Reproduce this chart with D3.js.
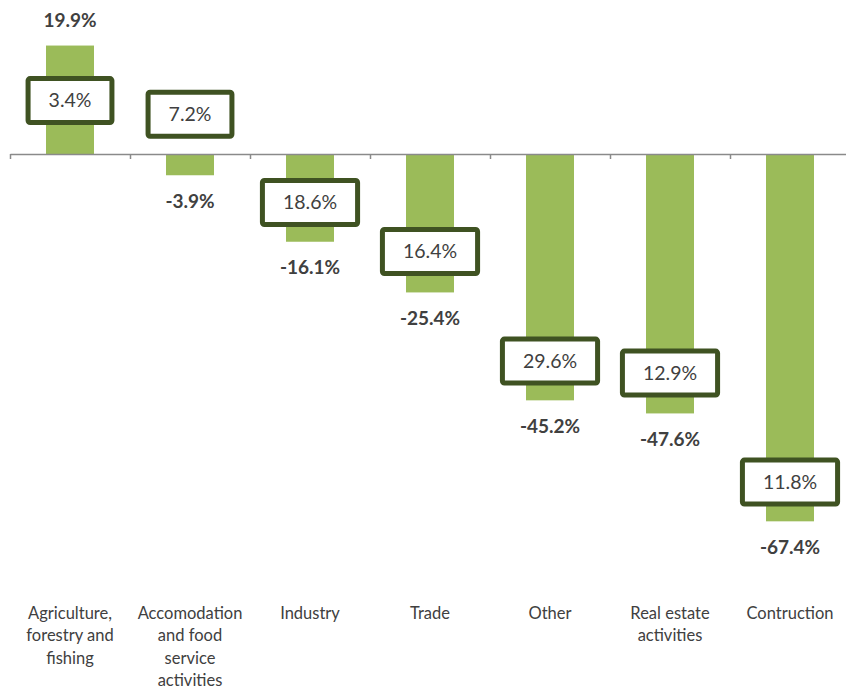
<!DOCTYPE html>
<html>
<head>
<meta charset="utf-8">
<script src="https://cdn.jsdelivr.net/npm/d3@7"></script>
<style>
  body { margin: 0; background: #fff; }
  svg { display: block; font-family: Lato, "Open Sans", sans-serif; }
</style>
</head>
<body>
<script>
let width = 846
let height = 691

// categories (line breaks as in the original axis labels)
let categories = [
    "Agriculture,\nforestry and\nfishing",
    "Accomodation\nand food\nservice\nactivities",
    "Industry",
    "Trade",
    "Other",
    "Real estate\nactivities",
    "Contruction"
]
// bar series (%)
let change = [19.9, -3.9, -16.1, -25.4, -45.2, -47.6, -67.4]
// boxed series (%)
let share = [3.4, 7.2, 18.6, 16.4, 29.6, 12.9, 11.8]
// where the boxed markers sit, on the same value axis
let shareAt = [9.8, 7.3, -8.9, -17.9, -38.0, -40.2, -60.2]

let barColor = "#9bbb59"
let boxColor = "#3f5222"
let textColor = "#404040"

// plain hyphen for negatives, like the original
let pct = d3.formatLocale({decimal: ".", thousands: ",", grouping: [3], currency: ["", ""], minus: "-"}).format(".1f")

let svg = d3.select("body").append("svg")
    .attr("width", width)
    .attr("height", height)

let x = d3.scaleBand()
    .domain(categories)
    .range([10, 850])
    .paddingInner(0.6)
    .paddingOuter(0.3)

let y = d3.scaleLinear()
    .domain([-70, 20])
    .range([535.5, 45])

let data = categories.map((c, i) => ({cat: c, v: change[i], s: share[i], at: shareAt[i]}))

// bars
svg.selectAll(".bar").data(data).enter()
    .append("rect")
    .attr("class", "bar")
    .attr("x", d => x(d.cat))
    .attr("width", x.bandwidth())
    .attr("y", d => y(Math.max(0, d.v)))
    .attr("height", d => Math.abs(y(d.v) - y(0)))
    .attr("fill", barColor)

// axis with ticks between categories
let xEdge = d3.scaleLinear().domain([0, categories.length]).range([10, 850])
let axis = svg.append("g")
    .attr("transform", "translate(0," + y(0) + ")")
    .call(d3.axisBottom(xEdge)
        .tickValues(d3.range(categories.length + 1))
        .tickFormat("")
        .tickSize(5)
        .tickSizeOuter(0))
axis.select(".domain").attr("stroke", "#8a8a8a").attr("stroke-width", 1.5)
axis.selectAll(".tick line").attr("stroke", "#8a8a8a").attr("stroke-width", 1.5)

// value labels
svg.selectAll(".val").data(data).enter()
    .append("text")
    .attr("class", "val")
    .attr("x", d => x(d.cat) + x.bandwidth() / 2)
    .attr("y", d => d.v >= 0 ? y(d.v) - 25 : y(d.v) + 26)
    .attr("dy", "0.35em")
    .attr("text-anchor", "middle")
    .attr("font-size", 19)
    .attr("font-weight", "bold")
    .attr("fill", textColor)
    .text(d => pct(d.v) + "%")

// boxed markers
let boxes = svg.selectAll(".box").data(data).enter()
    .append("g")
    .attr("class", "box")
    .attr("transform", d => "translate(" + (x(d.cat) + x.bandwidth() / 2) + "," + y(d.at) + ")")

boxes.append("rect")
    .attr("fill", "#fff")
    .attr("stroke", boxColor)
    .attr("stroke-width", 5)
    .attr("rx", 2)

boxes.append("text")
    .attr("text-anchor", "middle")
    .attr("dy", "0.35em")
    .attr("font-size", 19.5)
    .attr("fill", textColor)
    .text(d => pct(d.s) + "%")

boxes.each(function() {
    let g = d3.select(this)
    let tw = g.select("text").node().getComputedTextLength()
    g.select("rect")
        .attr("x", -(tw + 41) / 2)
        .attr("width", tw + 41)
        .attr("y", -22)
        .attr("height", 44)
})

// category labels
let cats = svg.selectAll(".cat").data(data).enter()
    .append("text")
    .attr("class", "cat")
    .attr("text-anchor", "middle")
    .attr("font-size", 16.5)
    .attr("fill", textColor)
    .attr("transform", d => "translate(" + (x(d.cat) + x.bandwidth() / 2) + ",619)")

cats.selectAll("tspan").data(d => d.cat.split("\n")).enter()
    .append("tspan")
    .attr("x", 0)
    .attr("y", (d, i) => i * 22.3)
    .text(d => d)
</script>
</body>
</html>
